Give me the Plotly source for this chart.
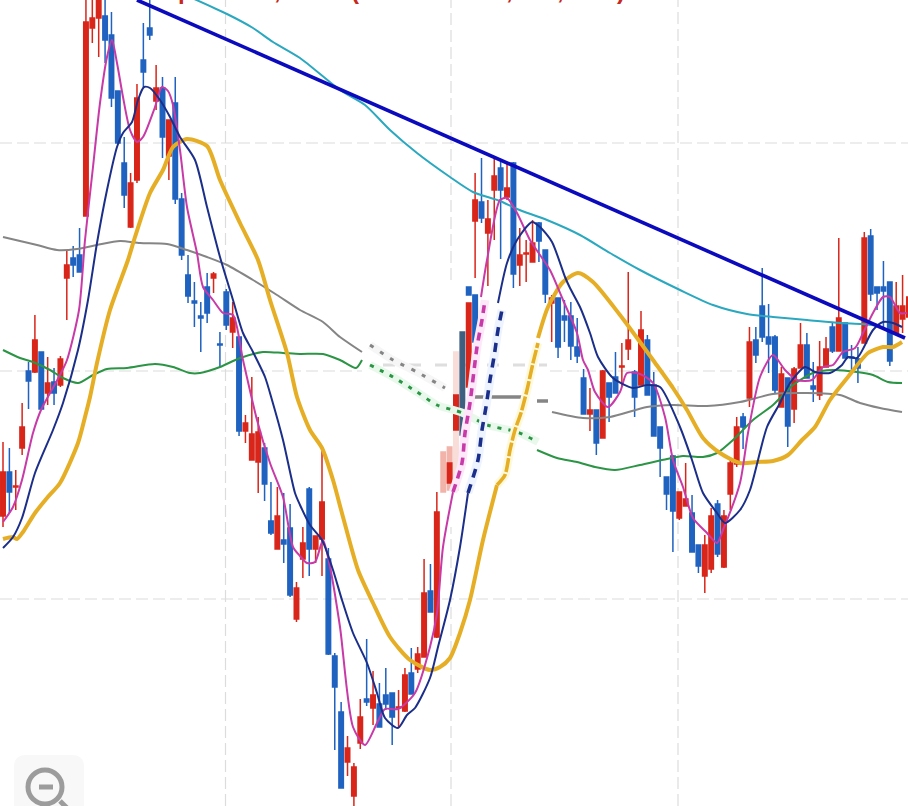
import plotly.graph_objects as go

# ---------- candles (price units, no labels in the source) ----------
is_up = [1,0,1,1,0,1,0,1,0,1,1,0,0,1,1,1,0,0,0,0,1,1,0,0,1,0,1,0,0,0,0,0,0,1,0,0,1,0,1,1,1,0,0,1,0,0,1,1,0,1,1,0,0,0,1,1,1,0,1,0,0,0,1,1,0,1,1,0,1,1,1,1,0,1,1,0,1,1,0,1,0,1,1,1,0,0,1,0,0,0,0,0,1,0,1,0,0,1,1,0,1,0,0,0,0,0,1,1,0,0,1,1,0,1,1,1,0,1,0,0,0,0,1,0,1,1,0,0,1,1,0,1,0,0,0,1,0,0,0,0,1,1,1]
body_top = [334,334,320,379,435,466,454,423,424,447,541,548,551,784,788,811,790,771,715,643,623,708,746,778,718,718,686,703,607,531,505,490,519,532,462,514,488,469,383,372,374,358,285,290,266,278,218,263,317,270,304,247,150,94,58,39,89,107,111,102,111,113,99,131,133,152,213,215,294,None,343,411,None,503,606,604,587,630,638,618,643,551,553,563,583,556,508,508,490,490,459,428,396,396,435,423,429,440,466,434,476,466,421,379,329,350,314,307,293,261,261,290,302,290,343,379,389,464,466,500,469,469,432,428,437,461,461,420,439,457,479,488,483,449,447,568,570,519,519,524,500,500,509]
body_bot = [290,314,319,358,425,434,397,413,413,421,528,541,534,590,778,788,766,708,663,611,579,626,734,771,705,669,650,607,551,510,503,488,493,528,461,481,474,375,375,346,344,322,273,257,262,211,187,247,257,257,267,152,119,18,44,10,63,104,98,79,102,89,98,95,112,137,149,194,169,None,323,376,None,419,585,588,573,616,616,609,532,541,552,544,565,512,503,459,486,460,450,392,392,363,368,409,413,439,457,409,421,411,370,358,312,295,288,300,254,240,230,237,252,239,312,342,379,408,451,469,462,416,399,380,397,438,428,417,411,439,455,455,448,448,438,463,512,513,515,445,473,487,489]
wick_high = [364,358,336,403,444,491,454,449,438,450,556,560,578,811,816,816,811,794,715,669,633,722,783,806,741,729,686,729,613,551,524,504,533,534,474,517,504,469,391,429,389,363,324,319,313,302,224,279,319,270,358,258,153,104,70,43,107,167,135,123,138,113,116,138,158,159,247,242,314,None,343,411,None,503,633,648,606,648,646,643,644,578,566,586,584,556,511,508,506,504,488,437,418,396,436,423,454,463,534,436,495,471,434,379,329,351,314,343,311,261,271,298,306,296,349,389,393,479,479,538,502,471,439,428,439,483,473,444,465,469,484,568,483,461,459,574,577,519,545,524,524,531,510]
wick_low = [279,293,296,351,397,433,397,401,401,419,486,529,534,590,763,749,743,699,663,598,578,623,719,766,696,648,626,602,546,503,479,454,483,513,439,476,458,370,363,346,313,305,271,257,243,209,184,228,230,243,230,151,56,18,30,0,57,100,81,79,96,61,78,94,112,133,149,194,168,None,323,376,None,419,528,583,520,566,547,606,518,520,524,544,544,503,464,448,464,446,443,392,375,351,368,384,413,419,446,389,421,411,370,329,296,254,286,300,254,233,213,233,249,238,296,339,357,399,443,464,433,413,399,359,383,438,428,404,406,439,453,455,448,434,423,463,505,496,479,440,471,473,471]
# candles half erased in the source: pale, dark and detached pieces
pale_bars = [69,70]
pale_top = [354,359]
pale_bot = [314,316]
faint_bars = [71]
faint_top = [454]
faint_bot = [316]
slate_bars = [72]
slate_top = [474]
slate_bot = [371]
piece_bars = [73,74]
piece_top = [519,511]
piece_bot = [511,464]

# ---------- moving averages ----------
ma5_a_x = [3,13,22,33,41,60,67,79,85,93,100,107,112,117,123,130,137,143,155,162,168,173,180,187,197,203,213,223,233,243,257,270,283,293,300,307,315,323,330,340,353,365,377,385,398,415,430,437,443,453]
ma5_a_y = [284,299,326,373,396,431,446,496,566,639,703,749,766,743,709,676,664,669,699,719,715,701,656,599,553,519,506,493,491,446,386,343,309,259,250,243,244,266,239,179,79,61,83,97,97,113,159,193,259,314]
ma5_g_x = [453,462,465,470,477,482,485]
ma5_g_y = [314,343,373,403,459,486,506]
ma5_b_x = [481,487,500,507,517,530,540,550,563,577,583,588,595,608,620,627,640,653,665,673,683,693,707,717,723,740,748,760,773,785,797,812,823,833,843,855,863,873,883,890,900,907]
ma5_b_y = [509,546,606,608,593,566,551,536,506,473,446,436,414,399,414,433,432,423,389,346,319,288,273,263,276,323,373,429,451,436,426,426,439,441,454,458,473,493,509,509,493,493]

ma10_a_x = [3,13,22,35,53,63,78,88,97,107,117,123,132,138,144,150,160,170,180,195,207,220,233,243,253,265,272,283,295,300,310,322,333,342,353,367,377,385,398,407,415,430,438,450,460,468]
ma10_a_y = [258,269,288,333,376,403,456,506,563,616,659,673,684,706,719,718,706,689,669,646,599,549,506,473,454,429,406,366,313,301,281,266,236,206,173,143,113,88,78,91,98,128,159,206,259,313]
ma10_g_x = [468,478,482,486,490,494,498,502]
ma10_g_y = [313,346,376,399,426,449,476,496]
ma10_b_x = [498,507,517,532,540,552,565,570,580,590,598,613,633,647,660,680,692,703,717,725,740,750,767,780,790,805,815,830,842,848,857,873,883,893,902]
ma10_b_y = [503,543,566,584,579,564,529,518,499,473,449,428,418,421,419,379,346,313,293,283,296,316,379,403,423,439,434,433,441,449,448,476,484,483,479]

ma20_a_x = [3,13,17,23,35,47,60,78,85,90,97,110,128,135,150,163,173,187,207,220,240,258,270,287,297,310,322,333,343,358,373,390,410,430,440,450,460,470,483,497]
ma20_a_y = [267,269,267,274,293,308,323,363,389,409,443,496,546,569,613,636,659,667,660,626,583,546,506,453,409,376,358,326,289,236,203,169,146,136,139,148,173,206,266,321]
ma20_g_x = [497,505,510,515,521,527,533,538]
ma20_g_y = [321,331,356,376,393,416,443,463]
ma20_b_x = [538,548,563,578,593,620,640,653,673,687,703,720,740,757,773,788,802,815,830,848,868,883,893,902]
ma20_b_y = [468,499,524,533,524,491,464,446,418,396,368,353,343,344,345,351,366,379,406,429,453,459,459,464]

ma60_a_x = [3,20,37,57,77,97,120,140,167,187,207,227,253,277,300,323,340,362]
ma60_a_y = [569,565,561,556,557,561,565,563,562,556,549,541,526,511,496,484,469,454]
ma60_g_x = [370,393,417,445]
ma60_g_y = [461,446,434,418]
ma60_p1_x = [470,527]
ma60_p1_y = [409,409]
ma60_p2_x = [537,548]
ma60_p2_y = [405,405]
ma60_b_x = [552,583,610,647,673,707,740,773,807,840,860,880,902]
ma60_b_y = [394,388,389,399,401,400,404,412,413,411,403,398,394]

ma120_a_x = [3,20,33,50,63,78,93,107,127,155,173,190,200,220,240,263,283,300,323,340,356,362]
ma120_a_y = [456,448,444,436,428,423,431,437,438,442,439,433,433,439,448,454,453,452,452,446,438,446]
ma120_g_x = [370,393,417,437,463,487,517,538]
ma120_g_y = [441,429,414,401,393,381,374,364]
ma120_b_x = [537,557,577,595,615,640,667,683,703,717,733,753,773,793,813,833,857,873,888,902]
ma120_b_y = [356,348,344,339,336,341,347,350,349,353,366,386,401,421,433,436,434,431,424,423]

ma250_x = [192,227,253,273,300,340,365,390,417,450,473,500,517,547,580,610,640,680,713,747,773,807,840,862,880]
ma250_y = [808,792,778,764,748,716,701,676,653,629,614,605,597,586,571,553,536,516,501,492,489,486,483,482,480]

trend_x = [137,905]
trend_y = [806,468]

title_pieces = ["p", ",", "(", ",", ",", ")"]
title_piece_x = [185, 277, 355, 509, 560, 621]

RED, BLUE = "#d9261a", "#1f62c0"
X_MAX, Y_MAX = 908, 806
BAR_STEP, BAR_START = 6.38, 3

def bar_x(i):
    return BAR_START + BAR_STEP * i

n = len(is_up)
xs = [bar_x(i) for i in range(n)]
opens = [None if t is None else (b if u else t) for t, b, u in zip(body_top, body_bot, is_up)]
closes = [None if t is None else (t if u else b) for t, b, u in zip(body_top, body_bot, is_up)]

def candles(x, o, h, l, c, up, down, width=1.5):
    return go.Candlestick(x=x, open=o, high=h, low=l, close=c, whiskerwidth=0, showlegend=False,
                          hoverinfo="skip",
                          increasing=dict(line=dict(color=up, width=width), fillcolor=up),
                          decreasing=dict(line=dict(color=down, width=width), fillcolor=down))

fig = go.Figure()
fig.add_trace(candles([bar_x(i) for i in faint_bars], faint_bot, faint_top, faint_bot, faint_top, "#f9ddd8", "#f9ddd8"))
fig.add_trace(candles([bar_x(i) for i in pale_bars], pale_bot, pale_top, pale_bot, pale_top, "#f2b3aa", "#f2b3aa"))
fig.add_trace(candles(xs, opens, wick_high, wick_low, closes, RED, BLUE))
fig.add_trace(candles([bar_x(i) for i in slate_bars], slate_top, slate_top, slate_bot, slate_bot, "#3f5f80", "#3f5f80"))
fig.add_trace(candles([bar_x(i) for i in piece_bars], piece_top, piece_top, piece_bot, piece_bot, BLUE, BLUE))

def line(x, y, color, width, dash="solid", smooth=True):
    shape = dict(shape="spline", smoothing=0.7) if smooth else dict(shape="linear")
    fig.add_trace(go.Scatter(x=x, y=y, mode="lines", showlegend=False, hoverinfo="skip",
                             line=dict(color=color, width=width, dash=dash, **shape)))

def broken_ma(ax, ay, gx, gy, bx, by, color, halo, w, gw, dash):
    line(ax, ay, color, w)
    line(gx, gy, halo, gw + 5)
    line(gx, gy, color, gw, dash)
    line(bx, by, color, w)

broken_ma(ma120_a_x, ma120_a_y, ma120_g_x, ma120_g_y, ma120_b_x, ma120_b_y, "#2b9545", "#e8f9ec", 2, 3, "4px,7px")
broken_ma(ma60_a_x, ma60_a_y, ma60_g_x, ma60_g_y, ma60_b_x, ma60_b_y, "#858585", "#f6f6f6", 2, 3, "4px,8px")
line(ma60_p1_x, ma60_p1_y, "#858585", 3.5)
line(ma60_p2_x, ma60_p2_y, "#858585", 3.5)
line(ma250_x, ma250_y, "#2aa8bf", 2)
broken_ma(ma20_a_x, ma20_a_y, ma20_g_x, ma20_g_y, ma20_b_x, ma20_b_y, "#e5ae25", "#fff9dc", 4, 3.6, "14px,2px")
broken_ma(ma5_a_x, ma5_a_y, ma5_g_x, ma5_g_y, ma5_b_x, ma5_b_y, "#c83aa8", "#fde8fa", 2, 3.6, "8px,6px")
broken_ma(ma10_a_x, ma10_a_y, ma10_g_x, ma10_g_y, ma10_b_x, ma10_b_y, "#1b2f8a", "#eef4ff", 2, 3.6, "9px,7px")
line(trend_x, trend_y, "#0b0bbd", 3.6, smooth=False)

GRID = dict(color="#dcdcdc", width=1.2, dash="12px,5px")
shapes = []
for y0, x0, x1 in [(663, 0, 908), (207, 0, 908), (435, 0, 362), (435, 550, 908)]:
    shapes.append(dict(type="line", x0=x0, x1=x1, y0=y0, y1=y0, line=GRID, layer="below"))
shapes.append(dict(type="line", x0=383, x1=547, y0=441, y1=441, layer="below",
                   line=dict(color="#dedede", width=3, dash="12px,14px")))
for x0, y0, y1 in [(225.5, 0, 806), (451, 526, 806), (451, 0, 279), (678, 0, 806)]:
    shapes.append(dict(type="line", x0=x0, x1=x0, y0=y0, y1=y1, line=GRID, layer="below"))
# zoom-out button, bottom left
shapes.append(dict(type="path", path="M14,0 L14,39 Q14,51 26,51 L72,51 Q84,51 84,39 L84,0 Z",
                   fillcolor="#f8f8f8", line=dict(width=0), layer="below"))
shapes.append(dict(type="circle", x0=28, x1=62, y0=2, y1=36, line=dict(color="#9c9c9c", width=5)))
shapes.append(dict(type="line", x0=39, x1=53, y0=19, y1=19, line=dict(color="#9c9c9c", width=5)))
shapes.append(dict(type="line", x0=60, x1=68, y0=5, y1=-3, line=dict(color="#9c9c9c", width=5)))

annotations = [dict(text=f"<b>{t}</b>", x=x / X_MAX, y=1 - 6 / Y_MAX, xref="paper", yref="paper",
                    xanchor="center", yanchor="bottom", showarrow=False,
                    font=dict(family="Liberation Sans", size=24, color="#c9281e"))
               for t, x in zip(title_pieces, title_piece_x)]

fig.update_layout(
    width=X_MAX, height=Y_MAX, margin=dict(l=0, r=0, t=0, b=0),
    paper_bgcolor="white", plot_bgcolor="white", showlegend=False,
    boxgap=0.0, shapes=shapes, annotations=annotations,
    xaxis=dict(range=[0, X_MAX], visible=False, rangeslider=dict(visible=False), fixedrange=True),
    yaxis=dict(range=[0, Y_MAX], visible=False, fixedrange=True),
)
fig.write_html("out.html", config=dict(displayModeBar=False),
               post_script="document.body.style.margin='0';document.documentElement.style.overflow='hidden';")
